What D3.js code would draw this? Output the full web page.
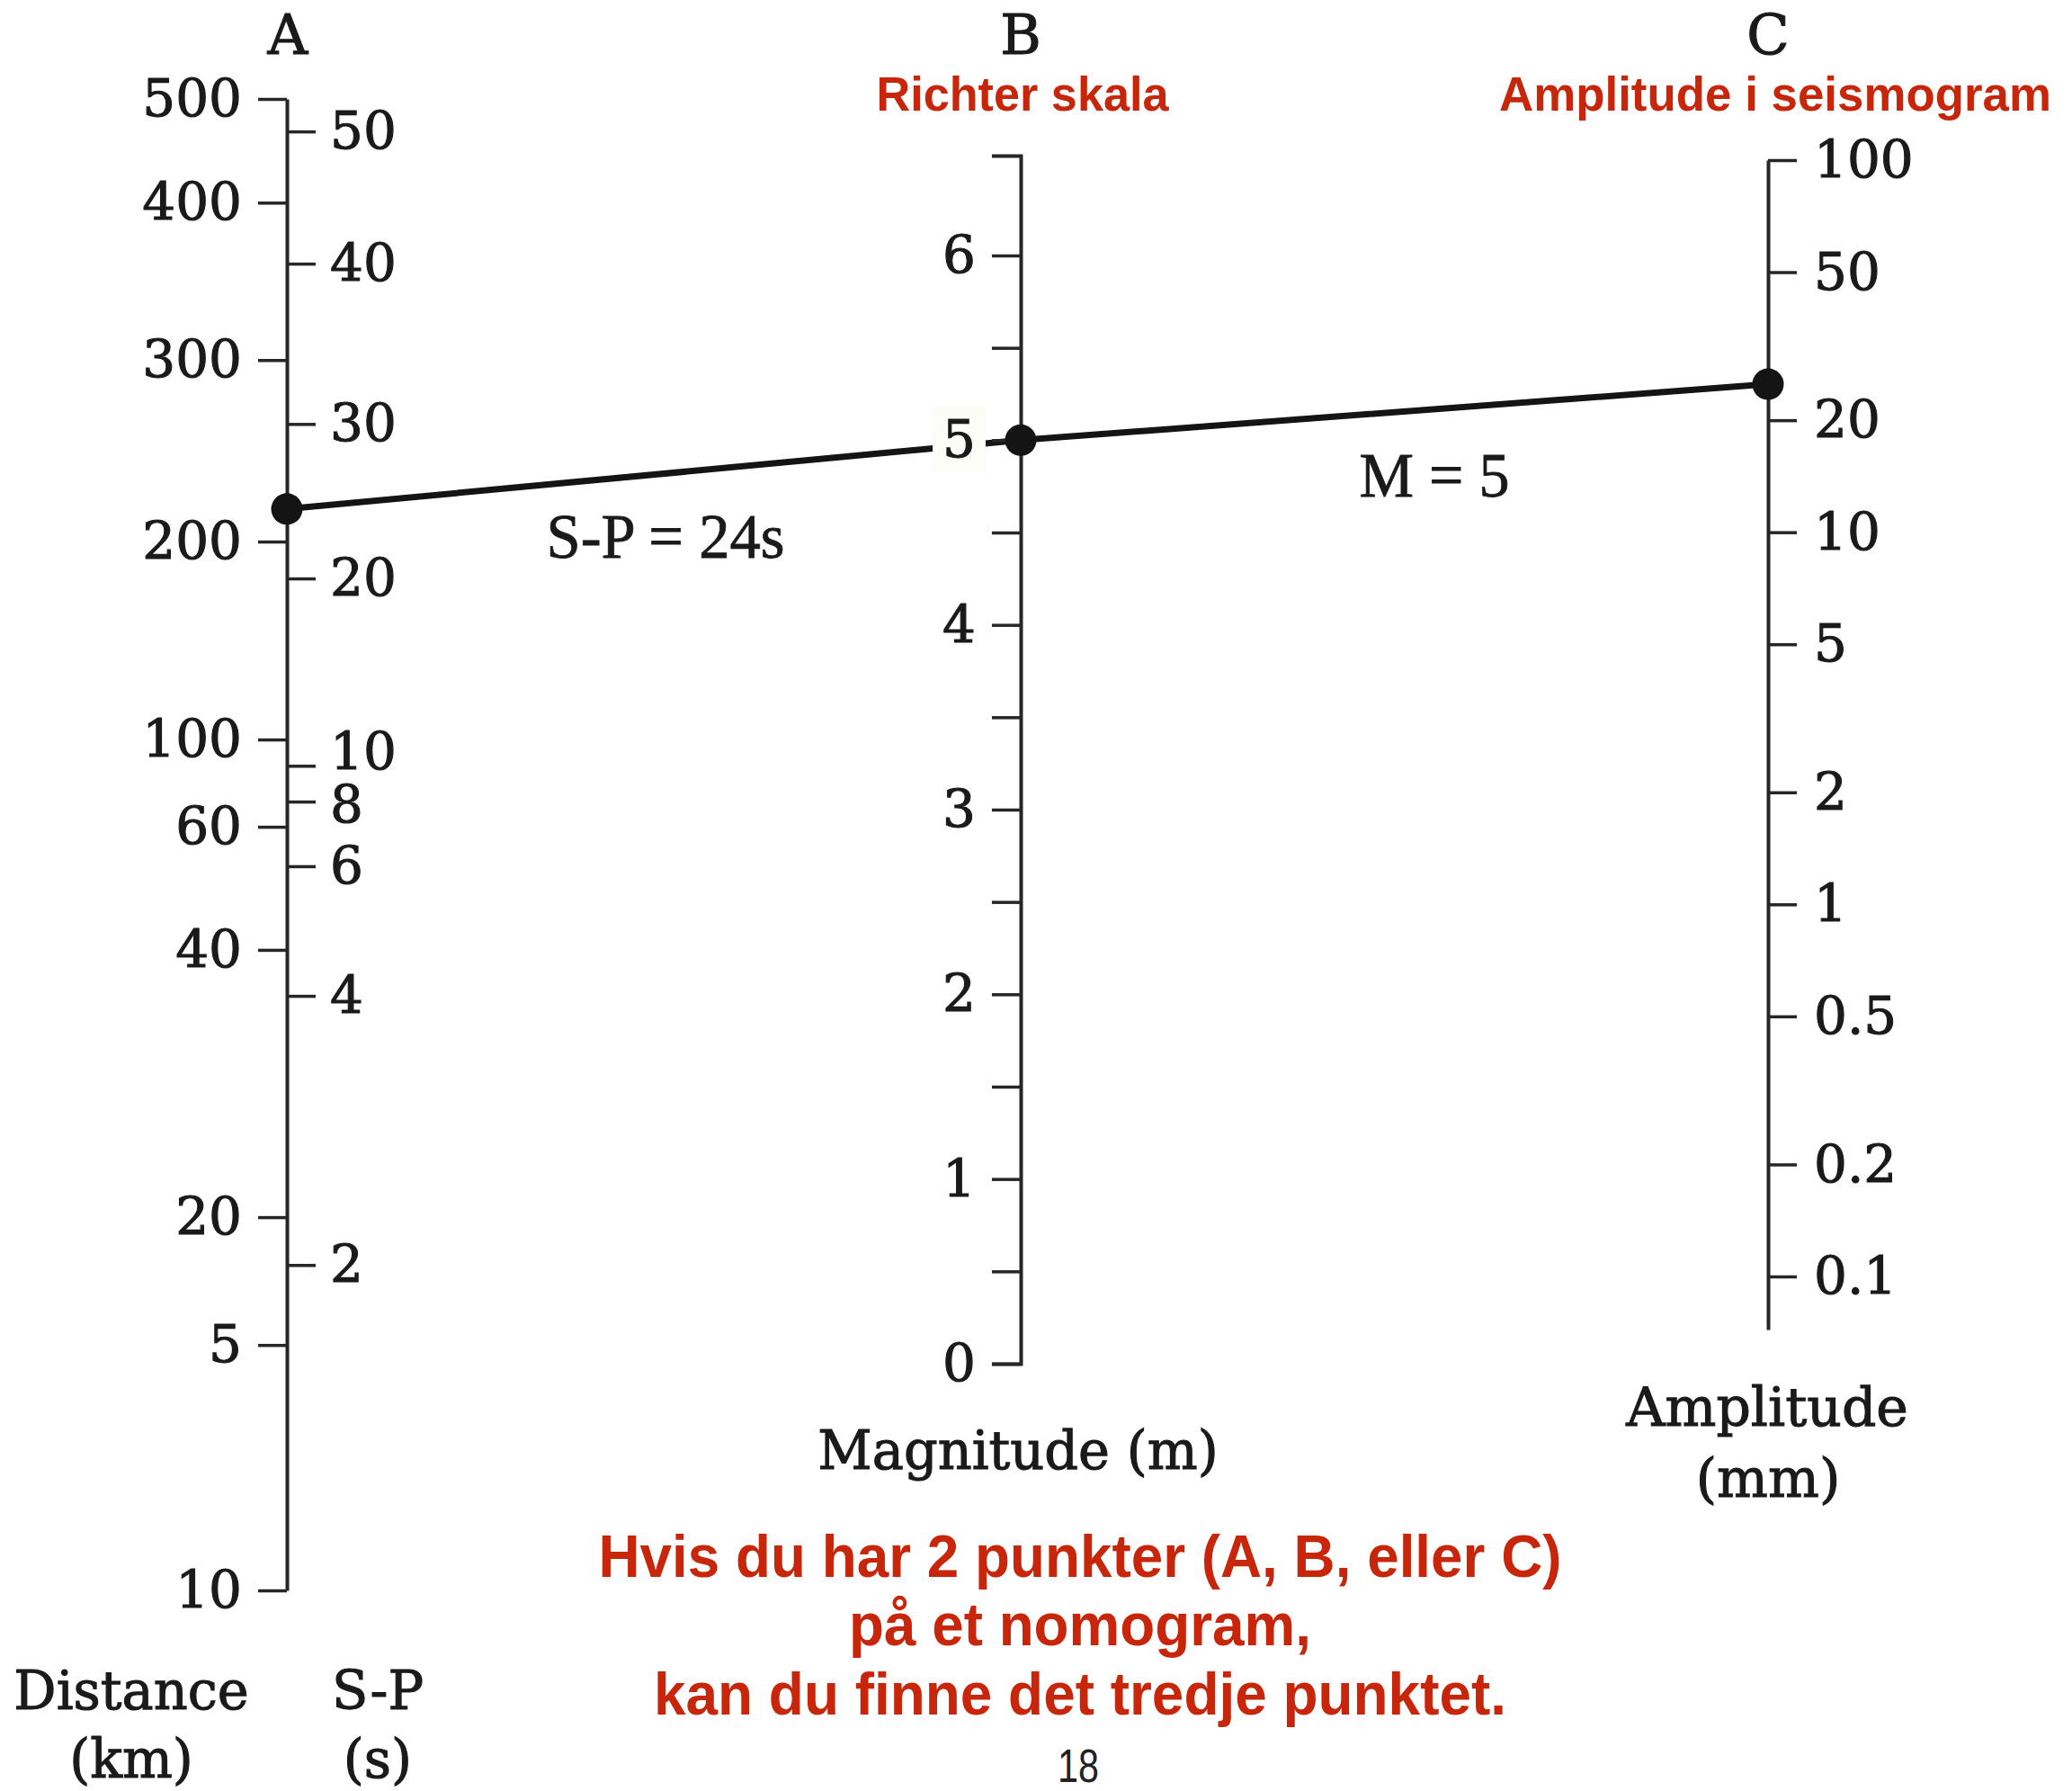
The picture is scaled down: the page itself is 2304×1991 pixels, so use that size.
<!DOCTYPE html>
<html>
<head>
<meta charset="utf-8">
<script src="https://cdn.jsdelivr.net/npm/d3@7"></script>
<style>
  html, body { margin: 0; padding: 0; background: #ffffff; }
  svg { display: block; }
</style>
</head>
<body>
<script>
// ---- Nomogram graduations -------------------------------------------------
// Axis A is linear in the magnitude correction term (M − log10 amplitude);
// both of its scales (distance and S-P time) are graduated in that unit.
const distanceLabels = ["500", "400", "300", "200", "100", "60", "40", "20", "5", "10"];
const distanceCorr   = [4.695, 4.411, 3.980, 3.483, 2.941, 2.702, 2.365, 1.633, 1.283, 0.611];

const spSeconds = [2, 4, 6, 8, 10, 20, 30, 40, 50];
const spCorr    = [1.502, 2.239, 2.594, 2.771, 2.869, 3.382, 3.805, 4.244, 4.606];

// Axis B: Richter magnitude
const magMajor  = [0, 1, 2, 3, 4, 5, 6];
const magMinor  = [0.5, 1.5, 2.5, 3.5, 4.5, 5.5];
const magExtent = [0, 6.54];

// Axis C: seismogram amplitude in mm (logarithmic)
const ampTicks  = [100, 50, 20, 10, 5, 2, 1, 0.5, 0.2, 0.1];
const ampExtent = [0.072, 100];

// Worked example
const exampleSP  = 24;   // s
const exampleMag = 5;
const exampleAmp = 25;   // mm

// Text
const axisLetters  = ["A", "B", "C"];
const redTitles    = ["Richter skala", "Amplitude i seismogram"];
const noteLines    = ["Hvis du har 2 punkter (A, B, eller C)", "på et nomogram,", "kan du finne det tredje punktet."];
const pageNumber   = "18";

// ---- Layout ---------------------------------------------------------------
const W = 2304, H = 1991;
const AX = 319, BX = 1135, CX = 1966;
const SERIF = "'DejaVu Serif', serif";
const SANS  = "'Liberation Sans', Arial, sans-serif";
const INK = "#1a1a1a";
const RED = "#c7260b";
const TICK = 32;

const svg = d3.select("body").append("svg")
  .attr("width", W).attr("height", H)
  .attr("viewBox", `0 0 ${W} ${H}`);

svg.append("rect").attr("width", W).attr("height", H).attr("fill", "#ffffff");

// Scales
const yA = d3.scaleLinear().domain([0.611, 4.695]).range([1768, 110]);
const yB = d3.scaleLinear().domain([0, 6]).range([1516, 284]);
const yC = d3.scaleLog().domain([0.1, 100]).range([1419, 178]);
const spToCorr = d3.scaleLog().domain(spSeconds).range(spCorr);

// ---- Example line (drawn beneath the axes) -------------------------------
const pts = [
  [AX, yA(spToCorr(exampleSP))],
  [BX, yB(exampleMag)],
  [CX, yC(exampleAmp)]
];
svg.append("path")
  .attr("d", d3.line()(pts))
  .attr("fill", "none")
  .attr("stroke", "#141414")
  .attr("stroke-width", 7)
  .attr("stroke-linecap", "round")
  .attr("stroke-linejoin", "round");

function styleAxis(g, size) {
  g.attr("font-family", SERIF).attr("font-size", size);
  g.selectAll("path.domain").attr("stroke", "#262626").attr("stroke-width", 4);
  g.selectAll(".tick line").attr("stroke", "#262626").attr("stroke-width", 3.5);
  g.selectAll(".tick text").attr("fill", INK)
    .attr("stroke", INK).attr("stroke-width", 1.1);
}

// ---- Axis A: distance (left) and S-P (right) ------------------------------
const distAxis = d3.axisLeft(yA.copy().domain([distanceCorr[distanceCorr.length - 1], distanceCorr[0]]))
  .tickValues(distanceCorr)
  .tickFormat((d, i) => distanceLabels[i])
  .tickSize(TICK).tickSizeOuter(0).tickPadding(18);
svg.append("g").attr("transform", `translate(${AX},0)`).call(distAxis).call(g => styleAxis(g, 58));

const spAxis = d3.axisRight(yA)
  .tickValues(spCorr)
  .tickFormat((d, i) => String(spSeconds[i]))
  .tickSize(TICK).tickSizeOuter(0).tickPadding(16);
svg.append("g").attr("transform", `translate(${AX},0)`).call(spAxis)
  .call(g => {
    styleAxis(g, 58);
    g.select("path.domain").remove();
    // the "10" and "8" labels are nudged apart, their ticks being so close
    g.selectAll(".tick").filter((d, i) => spSeconds[i] === 10)
      .select("text").attr("y", -15);
    g.selectAll(".tick").filter((d, i) => spSeconds[i] === 8)
      .select("text").attr("y", 4);
  });

// ---- Axis B: magnitude -----------------------------------------------------
const yBaxis = yB.copy().domain(magExtent).range([yB(magExtent[0]), yB(magExtent[1])]);
const magAxis = d3.axisLeft(yBaxis)
  .tickValues(magMajor.concat(magMinor))
  .tickFormat(d => Number.isInteger(d) ? String(d) : "")
  .tickSize(TICK).tickSizeOuter(TICK).tickPadding(18);
const gB = svg.append("g").attr("transform", `translate(${BX},0)`).call(magAxis)
  .call(g => styleAxis(g, 58));

// ---- Axis C: amplitude -----------------------------------------------------
const yCaxis = yC.copy().domain(ampExtent).range([yC(ampExtent[0]), yC(ampExtent[1])]);
const ampAxis = d3.axisRight(yCaxis)
  .tickValues(ampTicks)
  .tickFormat(d => String(d))
  .tickSize(TICK).tickSizeOuter(0).tickPadding(19);
svg.append("g").attr("transform", `translate(${CX},0)`).call(ampAxis)
  .call(g => styleAxis(g, 58));

// The magnitude label at the example crossing sits on a pale plate over the line
gB.selectAll(".tick").filter(d => d === exampleMag).each(function () {
  const tick = d3.select(this);
  const t = tick.select("text");
  const bb = t.node().getBBox();
  tick.insert("rect", "text")
    .attr("x", bb.x - 11).attr("y", bb.y - 3)
    .attr("width", bb.width + 22).attr("height", bb.height + 6)
    .attr("fill", "#fdfdf8");
});

// ---- Example points ------------------------------------------------------
svg.append("g").selectAll("circle").data(pts).join("circle")
  .attr("cx", d => d[0]).attr("cy", d => d[1]).attr("r", 17.5)
  .attr("fill", "#141414");

// ---- Axis letters and titles ----------------------------------------------
const letterX = [AX + 1, BX, CX];
svg.append("g").selectAll("text").data(axisLetters).join("text")
  .attr("x", (d, i) => letterX[i]).attr("y", 60)
  .attr("text-anchor", "middle")
  .attr("font-family", SERIF).attr("font-size", 62).attr("fill", INK)
  .attr("stroke", INK).attr("stroke-width", 1.1)
  .text(d => d);

const titleX = [1137, 1974], titleW = [325, 614];
svg.append("g").selectAll("text").data(redTitles).join("text")
  .attr("x", (d, i) => titleX[i]).attr("y", 123)
  .attr("text-anchor", "middle")
  .attr("font-family", SANS).attr("font-weight", "bold").attr("font-size", 53)
  .attr("fill", RED)
  .attr("textLength", (d, i) => titleW[i]).attr("lengthAdjust", "spacingAndGlyphs")
  .text(d => d);

function serifLabel(x, y, s, size) {
  svg.append("text").attr("x", x).attr("y", y)
    .attr("text-anchor", "middle")
    .attr("font-family", SERIF).attr("font-size", size || 59).attr("fill", INK)
    .attr("stroke", INK).attr("stroke-width", 1.1)
    .text(s);
}
serifLabel(146, 1900, "Distance");
serifLabel(146, 1976, "(km)");
serifLabel(420, 1900, "S-P");
serifLabel(420, 1976, "(s)");
serifLabel(1132, 1633, "Magnitude (m)");
serifLabel(1965, 1585, "Amplitude", 60);
serifLabel(1966, 1664, "(mm)", 60);

// Annotations for the worked example
function noteLabel(x, y, s, w) {
  svg.append("text").attr("x", x).attr("y", y)
    .attr("text-anchor", "middle")
    .attr("font-family", "'Liberation Serif', 'Times New Roman', serif")
    .attr("font-size", 70).attr("fill", INK)
    .attr("stroke", INK).attr("stroke-width", 0.8)
    .attr("textLength", w).attr("lengthAdjust", "spacingAndGlyphs")
    .text(s);
}
noteLabel(740, 620, `S-P = ${exampleSP}s`, 265);
noteLabel(1595, 552, `M = ${exampleMag}`, 167);

// ---- Explanatory note ------------------------------------------------------
const noteY = [1753, 1829, 1906], noteW = [1071, 514, 948];
svg.append("g").selectAll("text").data(noteLines).join("text")
  .attr("x", 1201).attr("y", (d, i) => noteY[i])
  .attr("text-anchor", "middle")
  .attr("font-family", SANS).attr("font-weight", "bold").attr("font-size", 67)
  .attr("fill", RED)
  .attr("textLength", (d, i) => noteW[i]).attr("lengthAdjust", "spacingAndGlyphs")
  .text(d => d);

svg.append("text").attr("x", 1199).attr("y", 1981)
  .attr("text-anchor", "middle")
  .attr("font-family", SANS).attr("font-size", 51).attr("fill", "#222")
  .attr("textLength", 46).attr("lengthAdjust", "spacingAndGlyphs")
  .text(pageNumber);
</script>
</body>
</html>
